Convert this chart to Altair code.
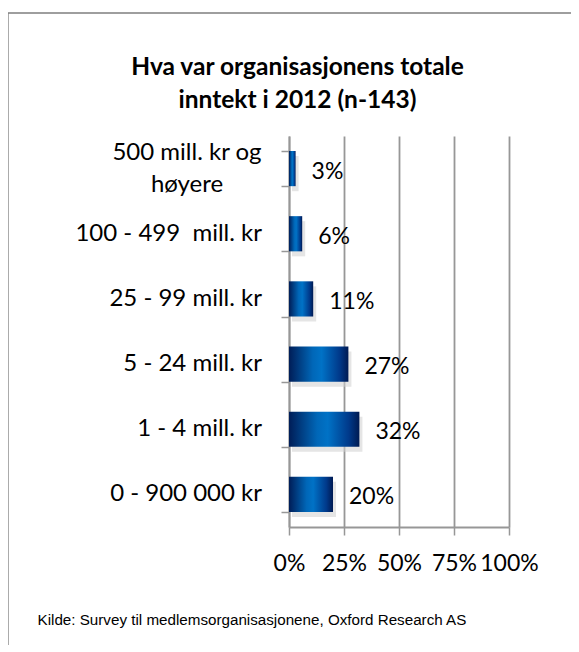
import altair as alt
import pandas as pd

# ---- data ----
categories = [
    "500 mill. kr og|høyere",
    "100 - 499  mill. kr",
    "25 - 99 mill. kr",
    "5 - 24 mill. kr",
    "1 - 4 mill. kr",
    "0 - 900 000 kr",
]
shares = [0.03, 0.06, 0.11, 0.27, 0.32, 0.20]
pct_labels = ["3%", "6%", "11%", "27%", "32%", "20%"]
x_ticks = [0, 0.25, 0.5, 0.75, 1.0]
title_lines = ["Hva var organisasjonens totale", "inntekt i 2012 (n-143)"]
source = "Kilde: Survey til medlemsorganisasjonene, Oxford Research AS"

df = pd.DataFrame({"kategori": categories, "andel": shares, "etikett": pct_labels})

NB = "\u00a0"
is_multi = "indexof(datum.kategori, '|') > 0"

bar_fill = alt.LinearGradient(
    gradient="linear", x1=0, x2=1, y1=0, y2=0,
    stops=[
        alt.GradientStop(offset=0.0, color="#001d57"),
        alt.GradientStop(offset=0.4, color="#0067b8"),
        alt.GradientStop(offset=0.55, color="#0072c6"),
        alt.GradientStop(offset=0.85, color="#00398a"),
        alt.GradientStop(offset=1.0, color="#001a52"),
    ],
)

GRAY = "#979797"
FONT = "Lato"
LABEL_W = 400

y_scale = alt.Scale(paddingInner=0.46, paddingOuter=0.23)

y_enc = alt.Y(
    "kategori:N",
    sort=categories,
    scale=y_scale,
    axis=alt.Axis(
        title=title_lines,
        titleFont=FONT,
        titleFontSize=24.5,
        titleFontWeight="bold",
        titleColor="#000000",
        titleAngle=0,
        titleAlign="center",
        titleBaseline="alphabetic",
        titleLineHeight=33,
        titleX=8,
        titleY=-62,
        labels=False,
        tickBand="extent",
        tickSize=8,
        tickColor=GRAY,
        tickWidth=1.5,
        domainColor=GRAY,
        domainWidth=1.8,
        grid=False,
    ),
)

x_enc = alt.X(
    "andel:Q",
    scale=alt.Scale(domain=[0, 1]),
    axis=alt.Axis(
        values=x_ticks,
        format=".0%",
        grid=True,
        gridColor=GRAY,
        gridWidth=1.8,
        domainColor=GRAY,
        domainWidth=1.8,
        tickColor=GRAY,
        tickWidth=1.5,
        tickSize=8,
        labelFont=FONT,
        labelFontSize=23,
        labelFontWeight=LABEL_W,
        labelColor="#000000",
        labelPadding=17,
        labelFlush=False,
        labelOverlap=False,
        title=source,
        titleFont="Liberation Sans",
        titleFontSize=15.2,
        titleFontWeight="normal",
        titleColor="#000000",
        titleAnchor="start",
        titleAlign="left",
        titleBaseline="alphabetic",
        titleX=-252,
        titleY=97,
    ),
)

base = alt.Chart(df)
y_plain = alt.Y("kategori:N", sort=categories)

shadow = base.mark_bar(color="#d0d0d0", opacity=0.55, xOffset=3, yOffset=5).encode(
    x=alt.X("andel:Q"), y=y_plain
)

bars = base.mark_bar(color=bar_fill).encode(x=x_enc, y=y_enc)

values = base.mark_text(
    align="left", baseline="middle", dx=16, dy=3, font=FONT, fontSize=23,
    fontWeight=LABEL_W, color="#000000"
).encode(x="andel:Q", y=y_plain, text="etikett:N")

# category labels (right-aligned beside the axis, like the reference)
cat_single = (
    base.transform_filter(f"!({is_multi})")
    .transform_calculate(lab=f"replace(datum.kategori, '  ', ' {NB}')")
    .mark_text(align="right", baseline="middle", font=FONT, fontSize=24,
               fontWeight=LABEL_W, color="#000000")
    .encode(x=alt.value(-27), y=y_plain, text="lab:N")
)
cat_multi = (
    base.transform_filter(is_multi)
    .transform_calculate(lab="split(datum.kategori, '|')")
    .mark_text(align="center", baseline="middle", dy=-16, lineHeight=32,
               font=FONT, fontSize=24, fontWeight=LABEL_W, color="#000000")
    .encode(x=alt.value(-102), y=y_plain, text="lab:N")
)

frame = alt.Chart(pd.DataFrame({"f": [0]})).mark_rect(
    filled=False, stroke="#7f7f7f", strokeWidth=1.3
).encode(
    x=alt.value(-281), x2=alt.value(400), y=alt.value(-123), y2=alt.value(700)
)

chart = (
    alt.layer(frame, shadow, bars, values, cat_single, cat_multi)
    .properties(
        width=220,
        height=391,
        autosize=alt.AutoSizeParams(type="none"),
        padding={"left": 281, "top": 128, "right": 62, "bottom": 118},
    )
    .configure_view(stroke=None)
)

chart.save("out.html", embed_options={"renderer": "svg", "actions": False})
